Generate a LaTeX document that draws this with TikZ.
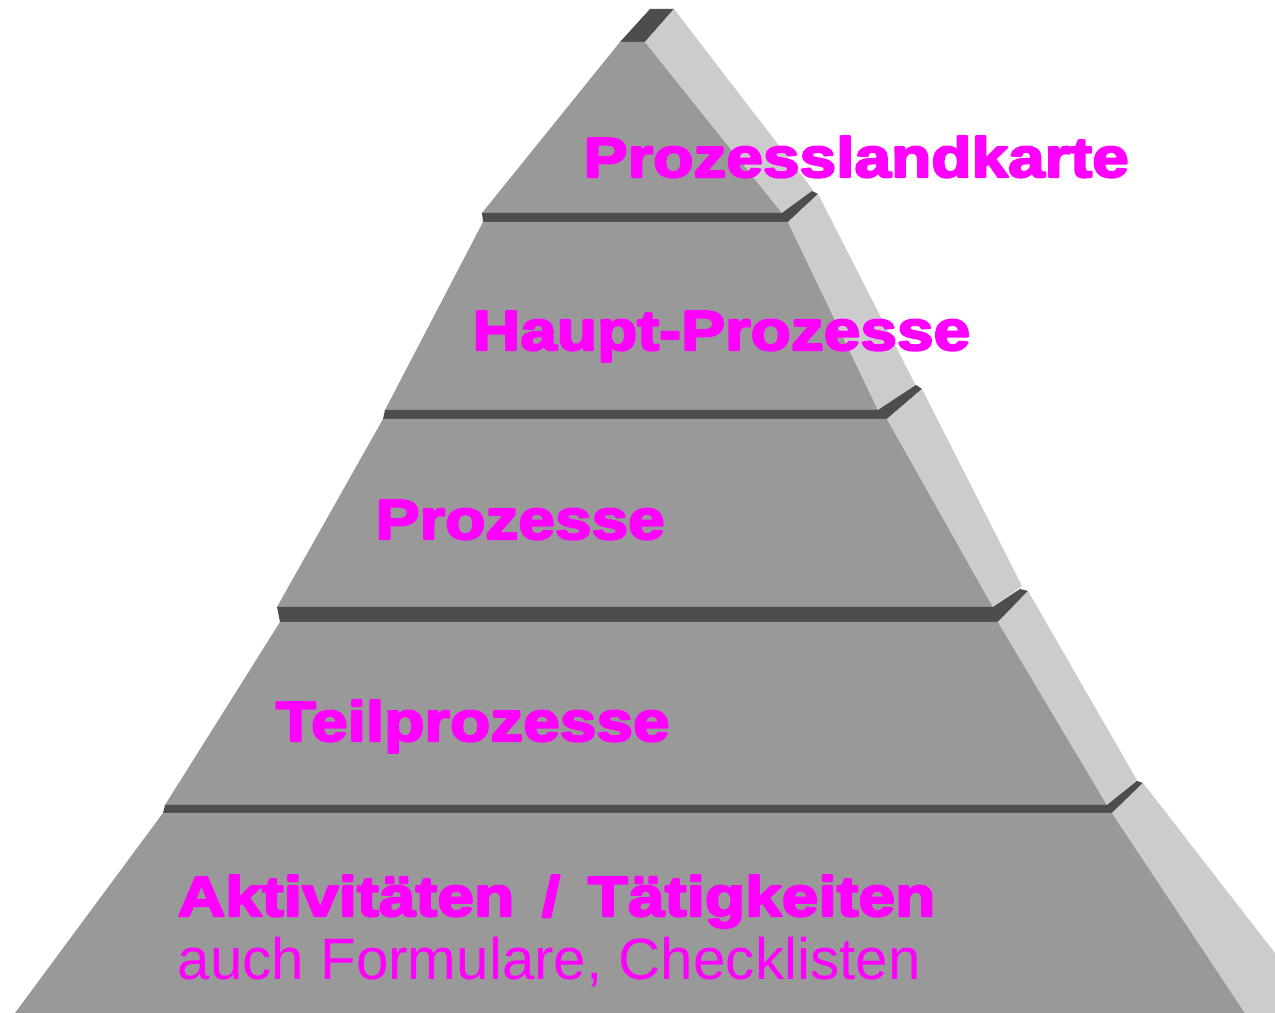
\documentclass[tikz,border=0pt]{standalone}
\usepackage{fontspec}
\setmainfont{Liberation Sans}[BoldFeatures={FakeBold=4,FakeStretch=1.17}]
\definecolor{frontgray}{RGB}{153,153,153}
\definecolor{sidegray}{RGB}{204,204,204}
\definecolor{topgray}{RGB}{77,77,77}
\definecolor{labelpink}{RGB}{255,0,255}
\begin{document}
\begin{tikzpicture}[x=0.01cm, y=-0.01cm, line join=round,
	front/.style={fill=frontgray}, side/.style={fill=sidegray}, topface/.style={fill=topgray},
	label/.style={anchor=base west, inner sep=0pt, text=labelpink, font=\fontsize{16}{19}\selectfont\bfseries}]
					\useasboundingbox (0,0) rectangle (1275,1013);
					% Spitze
					\fill[topface] (620,42) -- (650,9) -- (674,9) -- (645,42) -- cycle;
					\fill[front] (620,42) -- (645,42) -- (782,213) -- (482,213) -- cycle;
					\fill[side] (645,42) -- (674,9) -- (813,190) -- (782,213) -- cycle;
					\fill[topface] (482,213) -- (782,213) -- (812,191) -- (818,194) -- (788,222) -- (483,222) -- cycle;
					% Stufe 2
					\fill[front] (483,222) -- (788,222) -- (878,410) -- (385,410) -- cycle;
					\fill[side] (788,222) -- (818,194) -- (916,386) -- (878,410) -- cycle;
					\fill[topface] (385,410) -- (878,410) -- (916,385) -- (922,389) -- (887,419) -- (383,419) -- cycle;
					% Stufe 3
					\fill[front] (383,419) -- (887,419) -- (993,607) -- (277,607) -- cycle;
					\fill[side] (887,419) -- (922,389) -- (1022,586) -- (993,607) -- cycle;
					\fill[topface] (277,607) -- (993,607) -- (1020,589) -- (1028,591) -- (998,622) -- (280,622) -- cycle;
					% Stufe 4
					\fill[front] (280,622) -- (998,622) -- (1107,805) -- (165,805) -- cycle;
					\fill[side] (998,622) -- (1028,591) -- (1138,782) -- (1107,805) -- cycle;
					\fill[topface] (165,805) -- (1107,805) -- (1137,781) -- (1143,783) -- (1112,813) -- (163,813) -- cycle;
					% Sockel
					\fill[front] (163,813) -- (1112,813) -- (1245,1013) -- (15,1013) -- cycle;
					\fill[side] (1112,813) -- (1143,783) -- (1275,953) -- (1275,1013) -- (1245,1013) -- cycle;
					% Beschriftung
					\node[label] (karte) at (583,177) {Prozesslandkarte};
					\node[label] (haupt) at (472,350) {Haupt-Prozesse};
					\node[label] (proz) at (375,539) {Prozesse};
					\node[label] (teil) at (275,741) {Teilprozesse};
					\node[label] (akt) at (177,916) {Aktivitäten \,/\, Tätigkeiten};
					\node[label, font=\fontsize{16.6}{19}\selectfont] (auch) at (177,980) {auch Formulare, Checklisten};
				\end{tikzpicture}
\end{document}
